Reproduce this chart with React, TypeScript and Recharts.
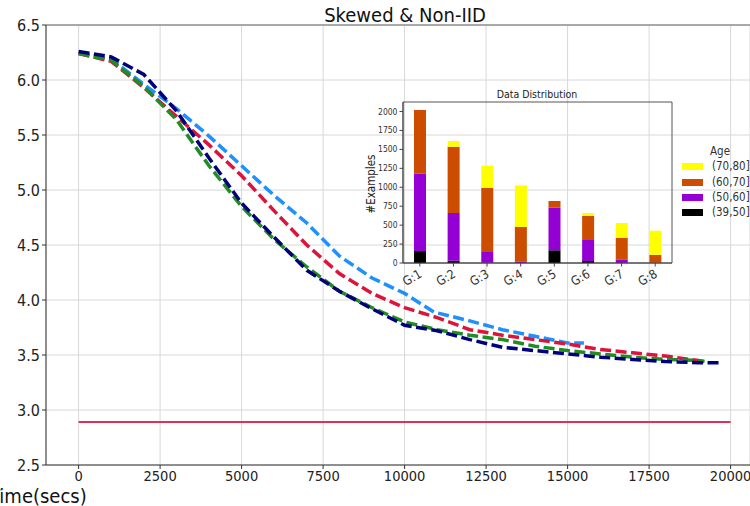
import { Bar, BarChart, CartesianGrid, Line, LineChart, ReferenceArea, ReferenceLine, XAxis, YAxis } from 'recharts'

const FONT = '"DejaVu Sans Condensed", "DejaVu Sans", sans-serif'

// loss over wall-clock time for the four runs
const blueTime = [0, 1000, 2000, 3000, 4000, 5000, 6000, 7000, 8000, 9000, 10000, 10900, 12000, 13000, 14000, 15000, 15500]
const blueLoss = [6.25, 6.19, 5.96, 5.74, 5.49, 5.22, 4.95, 4.70, 4.40, 4.20, 4.06, 3.89, 3.81, 3.73, 3.67, 3.61, 3.61]

const redTime = [0, 1000, 2000, 3000, 4000, 5000, 6000, 7000, 8000, 9000, 10000, 11000, 12000, 13000, 14000, 15000, 16000, 17000, 18000, 19000, 19200]
const redLoss = [6.24, 6.17, 5.93, 5.67, 5.41, 5.13, 4.81, 4.50, 4.24, 4.06, 3.93, 3.84, 3.73, 3.68, 3.64, 3.60, 3.55, 3.52, 3.49, 3.45, 3.44]

const greenTime = [0, 1000, 2000, 3000, 4000, 5000, 6000, 7000, 8000, 9000, 10000, 11000, 12000, 13000, 14000, 15000, 16000, 17000, 18000, 19000, 19200]
const greenLoss = [6.24, 6.18, 5.94, 5.64, 5.22, 4.85, 4.55, 4.30, 4.08, 3.93, 3.80, 3.73, 3.68, 3.64, 3.58, 3.54, 3.51, 3.48, 3.46, 3.45, 3.44]

const navyTime = [0, 1000, 2000, 3000, 4000, 5000, 6000, 7000, 8000, 9000, 10000, 11000, 12000, 13000, 14000, 15000, 16000, 17000, 18000, 19000, 19700]
const navyLoss = [6.26, 6.21, 6.05, 5.72, 5.29, 4.88, 4.57, 4.27, 4.08, 3.92, 3.77, 3.72, 3.64, 3.57, 3.54, 3.51, 3.48, 3.46, 3.44, 3.43, 3.43]

// target loss
const targetTime = [0, 20000]
const targetLoss = [2.89, 2.89]

const timeTicks = [0, 2500, 5000, 7500, 10000, 12500, 15000, 17500, 20000]
const lossTicks = [2.5, 3.0, 3.5, 4.0, 4.5, 5.0, 5.5, 6.0, 6.5]

// examples per group, split by age bucket
const groups = ['G:1', 'G:2', 'G:3', 'G:4', 'G:5', 'G:6', 'G:7', 'G:8']
const age39to50 = [160, 30, 3, 0, 167, 26, 0, 0]
const age50to60 = [1020, 630, 142, 15, 563, 277, 48, 3]
const age60to70 = [840, 875, 848, 460, 88, 317, 286, 107]
const age70to80 = [5, 75, 290, 550, 0, 40, 194, 316]
const countTicks = [0, 250, 500, 750, 1000, 1250, 1500, 1750, 2000]

const ageKeys = ['a70', 'a60', 'a50', 'a39']
const ageNames = ['(70,80]', '(60,70]', '(50,60]', '(39,50]']
const ageColors = ['#ffff00', '#cc4c00', '#9400d3', '#000000']

const toPoints = (t: number[], v: number[]) => t.map((x, i) => ({ t: x, loss: v[i] }))

const barRows = groups.map((g, i) => ({
  group: g,
  a39: age39to50[i],
  a50: age50to60[i],
  a60: age60to70[i],
  a70: age70to80[i],
}))

const dashed = { strokeWidth: 3.5, strokeDasharray: '11 4.5', dot: false, isAnimationActive: false }

function GroupTick({ x, y, payload }: any) {
  const px = x + 3
  const py = y + 8
  return (
    <text x={px} y={py} transform={`rotate(-30, ${px}, ${py})`} textAnchor="end" fontSize={12.5} fill="#333">
      {payload.value}
    </text>
  )
}

export default function App() {
  return (
    <div style={{ position: 'relative', width: 750, height: 506, fontFamily: FONT, overflow: 'hidden' }}>
      <style>{'body{margin:0}'}</style>
      <LineChart width={750} height={506} margin={{ top: 25, right: 0, bottom: 0, left: 0 }}>
        <CartesianGrid stroke="#d8d8d8" />
        <XAxis
          type="number"
          dataKey="t"
          domain={[-1000, 20595]}
          ticks={timeTicks}
          allowDataOverflow
          interval={0}
          height={41}
          tickSize={4}
          stroke="#333"
          tick={{ fontSize: 14.5, fill: '#222' }}
        />
        <YAxis
          type="number"
          domain={[2.5, 6.5]}
          ticks={lossTicks}
          allowDataOverflow
          interval={0}
          width={46}
          tickSize={4}
          stroke="#333"
          tick={{ fontSize: 16, fill: '#222' }}
          tickFormatter={(v: number) => v.toFixed(1)}
        />
        <ReferenceLine y={6.5} stroke="#666" />
        <Line data={toPoints(targetTime, targetLoss)} dataKey="loss" stroke="#e0305a" strokeWidth={2} dot={false} isAnimationActive={false} />
        <Line data={toPoints(blueTime, blueLoss)} dataKey="loss" stroke="#1e90ff" {...dashed} />
        <Line data={toPoints(redTime, redLoss)} dataKey="loss" stroke="#dc143c" {...dashed} />
        <Line data={toPoints(greenTime, greenLoss)} dataKey="loss" stroke="#228b22" {...dashed} />
        <Line data={toPoints(navyTime, navyLoss)} dataKey="loss" stroke="#00007a" {...dashed} />
        <text x={405} y={22} textAnchor="middle" fontSize={20} fill="#111">Skewed &amp; Non-IID</text>
        <text x={-11} y={503} fontSize={20} fill="#111">Time(secs)</text>
      </LineChart>

      <div style={{ position: 'absolute', left: 340, top: 80 }}>
        <BarChart width={410} height={215} data={barRows} margin={{ top: 22, right: 78, bottom: 0, left: 33 }}>
          <XAxis dataKey="group" height={32} interval={0} tickSize={3.5} stroke="#444" tick={<GroupTick />} />
          <YAxis
            type="number"
            domain={[0, 2126]}
            ticks={countTicks}
            allowDataOverflow
            interval={0}
            width={30}
            tickSize={3.5}
            stroke="#444"
            tick={{ fontSize: 8.5, fill: '#333' }}
          />
          <ReferenceArea y1={0} y2={2126} fill="none" stroke="#555" />
          <Bar dataKey="a39" stackId="age" fill={ageColors[3]} barSize={12} isAnimationActive={false} />
          <Bar dataKey="a50" stackId="age" fill={ageColors[2]} barSize={12} isAnimationActive={false} />
          <Bar dataKey="a60" stackId="age" fill={ageColors[1]} barSize={12} isAnimationActive={false} />
          <Bar dataKey="a70" stackId="age" fill={ageColors[0]} barSize={12} isAnimationActive={false} />
          <text x={197} y={18} textAnchor="middle" fontSize={10.5} fill="#222">Data Distribution</text>
          <text x={35} y={104} transform="rotate(-90, 35, 104)" textAnchor="middle" fontSize={11.5} fill="#222">#Examples</text>
        </BarChart>
      </div>

      <div style={{ position: 'absolute', left: 680, top: 144, fontSize: 11.5, color: '#333', lineHeight: '15.3px' }}>
        <div style={{ paddingLeft: 30 }}>Age</div>
        {ageKeys.map((k, i) => (
          <div key={k} style={{ display: 'flex', alignItems: 'center', height: 15.3 }}>
            <span style={{ width: 21, height: 7, background: ageColors[i], marginLeft: 2, marginRight: 9 }} />
            <span>{ageNames[i]}</span>
          </div>
        ))}
      </div>
    </div>
  )
}
